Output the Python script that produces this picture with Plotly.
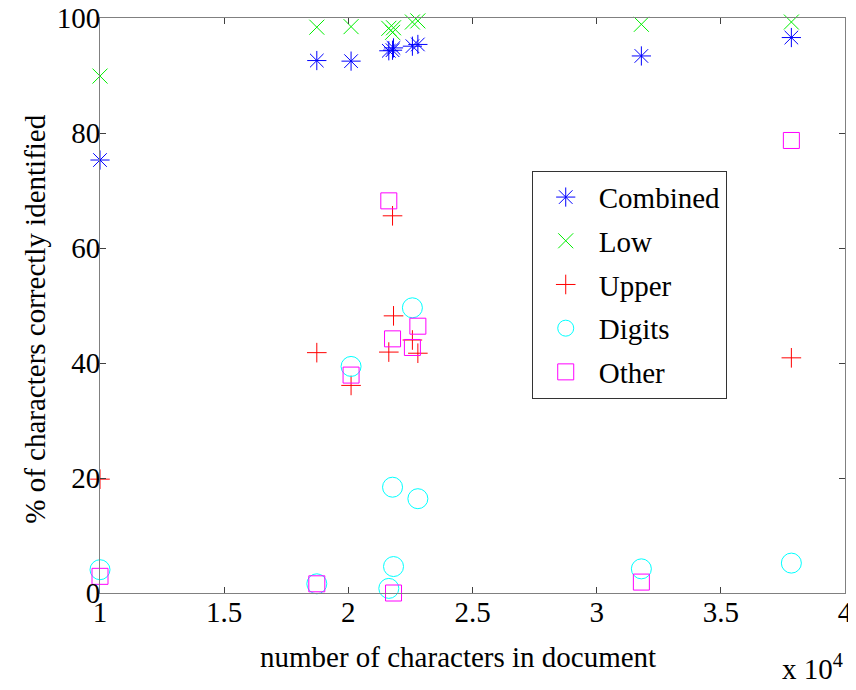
import plotly.graph_objects as go

# number of characters in each document
doc_chars = [10000, 18730, 20110, 21630, 21780, 21820, 22580, 22800, 31800, 37840]

# % of characters correctly identified
combined = [75.3, 92.6, 92.5, 94.3, 94.4, 94.8, 95.1, 95.4, 93.4, 96.6]
low      = [89.9, 98.4, 98.5, 98.2, 97.5, 98.3, 99.3, 99.5, 98.9, 99.3]
upper    = [19.8, 41.8, 36.1, 41.9, 65.6, 48.2, 44.0, 41.7, None, 40.9]
digits   = [4.05, 1.6, 39.4, 0.8, 18.4, 4.6, 49.6, 16.4, 4.2, 5.2]
other    = [2.9, 1.6, 37.9, 68.2, 44.2, 0.0, 42.7, 46.4, 1.9, 78.7]

x_ticks = [1, 1.5, 2, 2.5, 3, 3.5, 4]
y_ticks = [0, 20, 40, 60, 80, 100]

xs = [c / 1e4 for c in doc_chars]

FONT = "Liberation Serif"

series = [
    ("Combined", combined, "asterisk-open", "#0000ff", 16),
    ("Low", low, "x-thin-open", "#00ee00", 15),
    ("Upper", upper, "cross-thin-open", "#ff0000", 14),
    ("Digits", digits, "circle-open", "#00ffff", 20),
    ("Other", other, "square-open", "#ff00ff", 16),
]

fig = go.Figure()
for i, (name, vals, sym, col, size) in enumerate(series):
    fig.add_trace(go.Scatter(
        x=xs, y=vals, mode="markers", name=name, legendgroup=f"g{i}",
        cliponaxis=False,
        marker=dict(symbol=sym, size=size, color=col,
                    line=dict(color=col, width=1)),
    ))

axis_common = dict(
    showline=True, linecolor="#808080", linewidth=1, mirror="allticks",
    ticks="inside", ticklen=6, tickcolor="#404040", tickwidth=1,
    showgrid=False, zeroline=False, automargin=False,
    ticklabelstandoff=-7, ticklabeloverflow="allow",
    tickfont=dict(family=FONT, size=29, color="black"),
)

# the page body adds an 8px offset; the figure is sized to fit the window
fig.update_layout(
    width=848, height=682,
    margin=dict(l=92, r=11, t=10, b=97),
    paper_bgcolor="white", plot_bgcolor="white",
    font=dict(family=FONT, size=29, color="black"),
    xaxis=dict(range=[1, 4], tickvals=x_ticks, ticktext=[f"{v:g}" for v in x_ticks],
               **axis_common),
    yaxis=dict(range=[0, 100], tickvals=y_ticks, ticktext=[str(v) for v in y_ticks],
               **axis_common),
    legend=dict(x=0.5795, y=0.7344, xanchor="left", yanchor="top",
                bgcolor="white", bordercolor="#333333", borderwidth=1,
                font=dict(family=FONT, size=29), tracegroupgap=3,
                itemwidth=56),
    showlegend=True,
)

# axis titles
fig.add_annotation(xref="paper", yref="paper", x=0.481, y=-0.111,
                   xanchor="center", yanchor="middle", showarrow=False,
                   text="number of characters in document",
                   font=dict(family=FONT, size=29))
fig.add_annotation(xref="paper", yref="paper", x=-0.0872, y=0.477,
                   xanchor="center", yanchor="middle", showarrow=False,
                   textangle=-90,
                   text="% of characters correctly identified",
                   font=dict(family=FONT, size=29))

fig.add_annotation(xref="paper", yref="paper", x=1.0, y=-0.163,
                   xanchor="right", yanchor="bottom", showarrow=False,
                   text="x 10<sup>4</sup>", font=dict(family=FONT, size=29))

fig.write_html("out.html")
